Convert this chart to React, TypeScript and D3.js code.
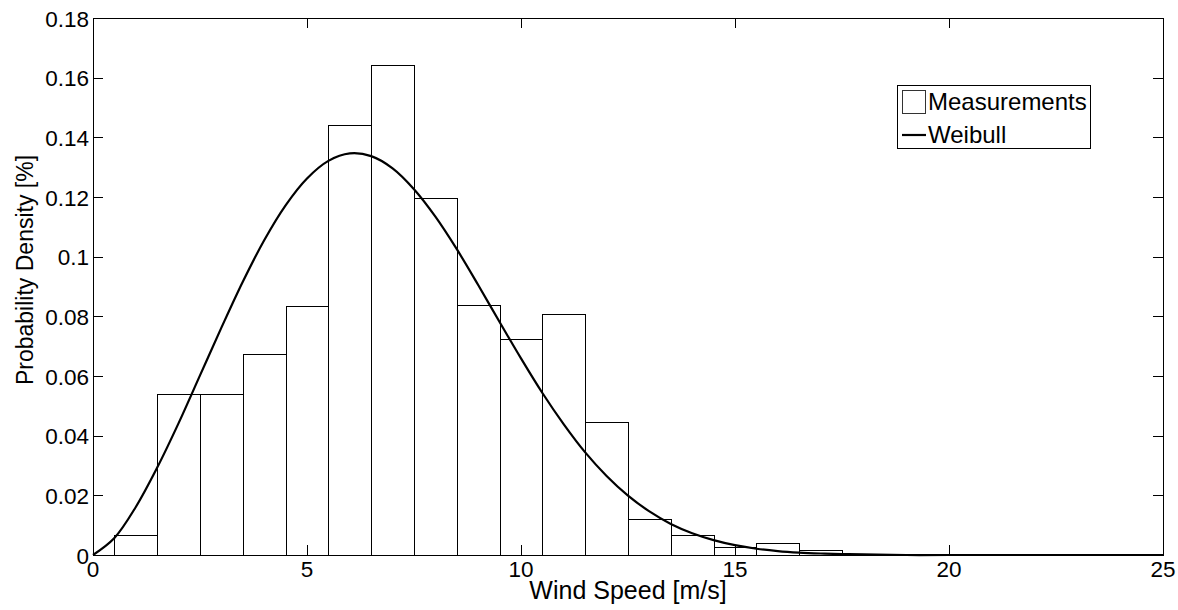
import React from 'react'
import * as d3 from 'd3'

// histogram bin centres (m/s) and bar heights
const binCenters = [1, 2, 3, 4, 5, 6, 7, 8, 9, 10, 11, 12, 13, 14, 15, 16, 17]
const binHeights = [
  0.0067, 0.0539, 0.0539, 0.0673, 0.0836, 0.144, 0.1642, 0.1198, 0.0837,
  0.0725, 0.0808, 0.0445, 0.0122, 0.0068, 0.0028, 0.0041, 0.0016,
]

// fitted curve
const curveX = [
  0, 0.5, 1, 1.5, 2, 2.5, 3, 3.5, 4, 4.5, 5, 5.5, 6, 6.5, 7, 7.5, 8, 8.5, 9,
  9.5, 10, 10.5, 11, 11.5, 12, 12.5, 13, 13.5, 14, 14.5, 15, 15.5, 16, 16.5,
  17, 17.5, 18, 19, 20, 25,
]
const curveY = [
  0, 0.0057, 0.0161, 0.0293, 0.0442, 0.0602, 0.0762, 0.0916, 0.1055, 0.1172,
  0.1262, 0.1321, 0.1346, 0.1337, 0.1296, 0.1226, 0.1134, 0.1025, 0.0905,
  0.0781, 0.0659, 0.0543, 0.0438, 0.0344, 0.0265, 0.0199, 0.0146, 0.0104,
  0.0073, 0.005, 0.0033, 0.0021, 0.0013, 0.0008, 0.0005, 0.0003, 0.0002, 0, 0,
  0,
]

const xTicks = [0, 5, 10, 15, 20, 25]
const yTicks = [0, 0.02, 0.04, 0.06, 0.08, 0.1, 0.12, 0.14, 0.16, 0.18]
const binWidth = 1

const left = 93
const right = 1163
const top = 18
const bottom = 555
const tickLen = 10
const font = '"Liberation Sans", Arial, sans-serif'

export default function App() {
  const x = d3.scaleLinear().domain([0, 25]).range([left, right])
  const y = d3.scaleLinear().domain([0, 0.18]).range([bottom, top])

  const line = d3
    .line<number>()
    .x((d, i) => x(curveX[i]))
    .y((d) => y(d))
    .curve(d3.curveCatmullRom.alpha(0.5))

  const yFmt = (v: number) => (v === 0 ? '0' : String(+v.toFixed(2)))

  return (
    <svg
      width={1178}
      height={610}
      style={{ position: 'absolute', left: 0, top: 0, background: '#fff' }}
      fontFamily={font}
    >
      {/* bars */}
      <g shapeRendering="crispEdges">
        {binCenters.map((c, i) => (
          <rect
            key={i}
            x={Math.round(x(c - binWidth / 2)) + 0.5}
            y={Math.round(y(binHeights[i])) + 0.5}
            width={Math.round(x(c + binWidth / 2)) - Math.round(x(c - binWidth / 2))}
            height={Math.round(y(0)) - Math.round(y(binHeights[i]))}
            fill="#fff"
            stroke="#000"
            strokeWidth={1}
          />
        ))}
      </g>

      {/* weibull */}
      <path d={line(curveY) || ''} fill="none" stroke="#000" strokeWidth={2.2} />

      {/* axes box and ticks */}
      <g shapeRendering="crispEdges" stroke="#000" strokeWidth={1}>
        <rect x={left + 0.5} y={top + 0.5} width={right - left} height={bottom - top} fill="none" />
        {xTicks.map((t) => (
          <g key={t}>
            <line x1={Math.round(x(t)) + 0.5} x2={Math.round(x(t)) + 0.5} y1={bottom} y2={bottom - tickLen} />
            <line x1={Math.round(x(t)) + 0.5} x2={Math.round(x(t)) + 0.5} y1={top} y2={top + tickLen} />
          </g>
        ))}
        {yTicks.map((t) => (
          <g key={t}>
            <line x1={left} x2={left + tickLen} y1={Math.round(y(t)) + 0.5} y2={Math.round(y(t)) + 0.5} />
            <line x1={right} x2={right - tickLen} y1={Math.round(y(t)) + 0.5} y2={Math.round(y(t)) + 0.5} />
          </g>
        ))}
      </g>

      {/* tick labels */}
      <g fontSize={22.5} fill="#000">
        {xTicks.map((t) => (
          <text key={t} x={x(t)} y={bottom + 22} textAnchor="middle">
            {t}
          </text>
        ))}
        {yTicks.map((t) => (
          <text key={t} x={left - 4} y={y(t) + 8.5} textAnchor="end">
            {yFmt(t)}
          </text>
        ))}
      </g>

      {/* axis labels */}
      <text x={(left + right) / 2} y={599} textAnchor="middle" fontSize={25}>
        Wind Speed [m/s]
      </text>
      <text
        transform={`translate(33, 270) rotate(-90)`}
        textAnchor="middle"
        fontSize={23}
      >
        Probability Density [%]
      </text>

      {/* legend */}
      <g>
        <rect x={897.5} y={85.5} width={193} height={63} fill="#fff" stroke="#000" shapeRendering="crispEdges" />
        <rect x={902.5} y={90.5} width={23} height={23} fill="#fff" stroke="#333" shapeRendering="crispEdges" />
        <line x1={902} x2={926} y1={135} y2={135} stroke="#000" strokeWidth={2.2} />
        <text x={928} y={110} fontSize={24}>
          Measurements
        </text>
        <text x={928} y={143} fontSize={24}>
          Weibull
        </text>
      </g>
    </svg>
  )
}
